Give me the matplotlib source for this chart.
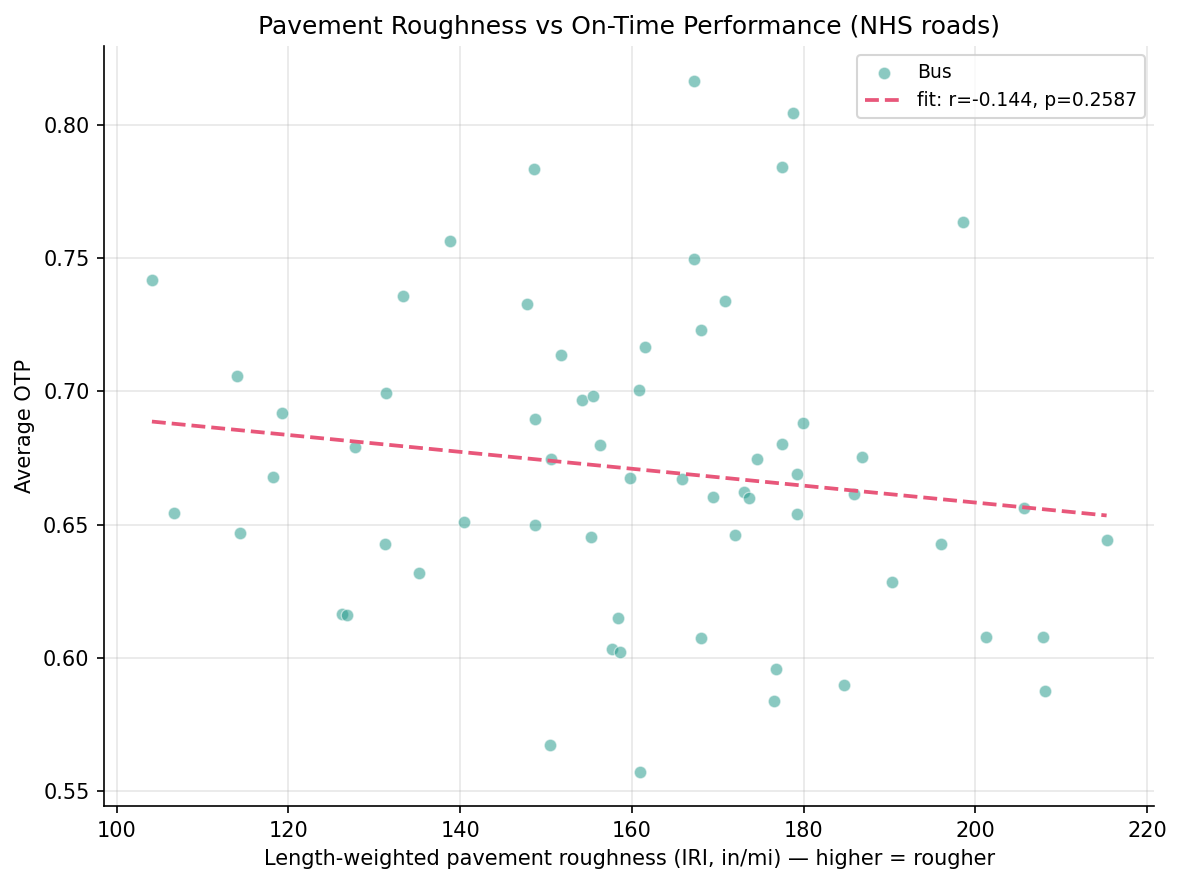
import numpy as np
import matplotlib
matplotlib.use("Agg")
import matplotlib.pyplot as plt

# length-weighted IRI (in/mi) and average on-time performance, one point per route
iri = [104.1, 106.7, 114.0, 114.4, 118.2, 119.2, 126.2, 126.8, 127.8, 131.2,
       131.4, 133.3, 135.2, 138.8, 140.5, 147.8, 148.6, 148.7, 148.7, 150.5,
       150.6, 151.8, 154.2, 155.2, 155.5, 156.3, 157.7, 158.4, 158.6, 159.8,
       160.8, 160.9, 161.5, 165.9, 167.2, 167.2, 168.1, 168.1, 169.5, 170.9,
       172.0, 173.1, 173.7, 174.6, 176.6, 176.8, 177.5, 177.5, 178.8, 179.2,
       179.2, 179.9, 184.7, 185.9, 186.8, 190.3, 196.0, 198.6, 201.2, 205.7,
       207.9, 208.1, 215.3]
otp = [0.7418, 0.6543, 0.7057, 0.6468, 0.6678, 0.6918, 0.6166, 0.6162, 0.6791, 0.6427,
       0.6993, 0.7358, 0.6320, 0.7564, 0.6510, 0.7327, 0.7834, 0.6896, 0.6499, 0.5675,
       0.6746, 0.7137, 0.6967, 0.6454, 0.6982, 0.6800, 0.6035, 0.6150, 0.6022, 0.6675,
       0.7004, 0.5574, 0.7166, 0.6671, 0.8166, 0.7495, 0.7229, 0.6076, 0.6605, 0.7338,
       0.6462, 0.6623, 0.6600, 0.6747, 0.5839, 0.5960, 0.7840, 0.6803, 0.8044, 0.6691,
       0.6541, 0.6881, 0.5900, 0.6615, 0.6753, 0.6286, 0.6427, 0.7634, 0.6079, 0.6562,
       0.6079, 0.5876, 0.6442]
fit_label = "fit: r=-0.144, p=0.2587"

x = np.array(iri)
y = np.array(otp)

fig, ax = plt.subplots(figsize=(7.893, 5.9), dpi=150)
fig.subplots_adjust(left=0.088, right=0.975, top=0.948, bottom=0.089)
ax.scatter(x, y, s=36, color='#2a9d8f', alpha=0.55, edgecolors='white',
           linewidths=0.6, label='Bus', zorder=3)

# simple least squares line across the data range
slope, icpt = np.polyfit(x, y, 1)
xs = np.linspace(x.min(), x.max(), 100)
ax.plot(xs, slope * xs + icpt, color='#e8577a', ls='--', lw=1.8,
        label=fit_label, zorder=4)

ax.set_title('Pavement Roughness vs On-Time Performance (NHS roads)', fontsize=12)
ax.set_xlabel('Length-weighted pavement roughness (IRI, in/mi) — higher = rougher')
ax.set_ylabel('Average OTP')
ax.grid(True, alpha=0.3)
ax.set_axisbelow(True)
for spine in ('top', 'right'):
    ax.spines[spine].set_visible(False)
ax.legend(loc='upper right', fontsize=9)

fig.savefig('out.png', dpi=150)
